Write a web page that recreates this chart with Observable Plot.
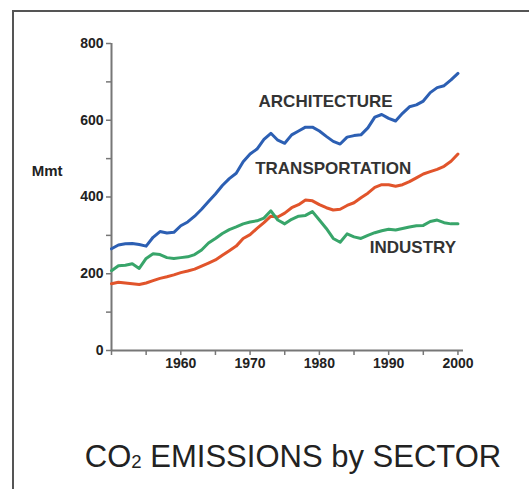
<!DOCTYPE html>
<html>
<head>
<meta charset="utf-8">
<script src="https://cdn.jsdelivr.net/npm/d3@7"></script>
<script src="https://cdn.jsdelivr.net/npm/@observablehq/plot@0.6"></script>
<style>
html, body { margin: 0; padding: 0; background: #fff; width: 529px; height: 489px; overflow: hidden; font-family: "Liberation Sans", Arial, Helvetica, sans-serif; }
#frame { position: absolute; left: 12px; top: 10px; right: -4px; bottom: -4px; border-top: 2px solid #555; border-left: 2px solid #555; }
#chart { position: absolute; left: 0; top: 0; }
#title { position: absolute; left: 0; width: 586px; top: 439px; text-align: center; font-size: 31px; color: #222; white-space: nowrap; }
#title .sub { font-size: 60%; vertical-align: -0.05em; }
</style>
</head>
<body>
<div id="frame"></div>
<div id="chart"></div>
<div id="title">CO<span class="sub">2</span> EMISSIONS by SECTOR</div>
<script>
const years = d3.range(1950, 2001);
const architecture = [265,275,278,279,276,272,295,310,306,308,325,335,350,368,388,408,430,448,462,492,512,525,550,566,548,540,562,572,582,582,572,558,545,538,556,560,562,580,608,615,605,598,618,635,640,650,672,685,690,705,722];
const transportation = [174,178,176,174,172,176,182,188,192,197,203,207,212,220,228,236,248,260,272,292,302,318,333,350,348,358,372,380,392,390,380,372,366,368,378,385,398,410,425,432,432,428,432,440,450,460,466,472,480,493,512];
const industry = [208,221,222,226,214,240,252,250,242,240,242,244,250,262,280,292,305,315,322,330,335,338,345,364,340,330,342,350,352,362,340,318,292,282,304,296,292,300,307,312,316,314,318,322,325,326,336,340,333,330,330];
const sectors = ["ARCHITECTURE", "TRANSPORTATION", "INDUSTRY"];
const sectorColors = ["#2c5fb3", "#e1542b", "#38a56a"];
const yTicks = d3.range(0, 801, 100);
const yTickLabels = [0, 200, 400, 600, 800];
const xTicks = d3.range(1950, 2001, 5);
const xTickLabels = [1960, 1970, 1980, 1990, 2000];
const yUnit = "Mmt";

const seriesValues = [architecture, transportation, industry];
const rows = sectors.flatMap((s, k) => years.map((yr, i) => ({sector: s, year: yr, value: seriesValues[k][i]})));

const chart = Plot.plot({
  width: 529,
  height: 390,
  marginLeft: 111,
  marginRight: 66,
  marginTop: 43,
  marginBottom: 40,
  x: {domain: [1950, 2000.8]},
  y: {domain: [0, 800]},
  color: {domain: sectors, range: sectorColors},
  style: {fontFamily: "'Liberation Sans', Arial, Helvetica, sans-serif", fontSize: "14px", color: "#222", background: "transparent"},
  marks: [
    Plot.axisY({ticks: yTicks, tickSize: 5, tickPadding: 3, tickFormat: d => yTickLabels.includes(d) ? String(d) : "", stroke: "#777", strokeWidth: 1.5, fontWeight: "bold", label: null}),
    Plot.axisX({ticks: xTicks, tickSize: 5, tickPadding: 3, tickFormat: d => xTickLabels.includes(d) ? String(d) : "", stroke: "#777", strokeWidth: 1.5, fontWeight: "bold", label: null}),
    Plot.ruleX([1950], {stroke: "#777", strokeWidth: 2}),
    Plot.ruleY([0], {stroke: "#777", strokeWidth: 2}),
    Plot.lineY(rows, {x: "year", y: "value", z: "sector", stroke: "sector", strokeWidth: 3, strokeLinejoin: "round"}),
    Plot.text(sectors, {
      x: [1980.9, 1982.0, 1993.5],
      y: [650, 474, 268],
      text: d => d,
      textAnchor: "middle",
      fontSize: 17, fontWeight: "bold", fill: "#333"
    }),
    Plot.text([yUnit], {frameAnchor: "left", dx: -49, dy: -26, textAnchor: "end", fontSize: 15, fontWeight: "bold", fill: "#222"})
  ]
});
document.getElementById("chart").append(chart);
</script>
</body>
</html>
